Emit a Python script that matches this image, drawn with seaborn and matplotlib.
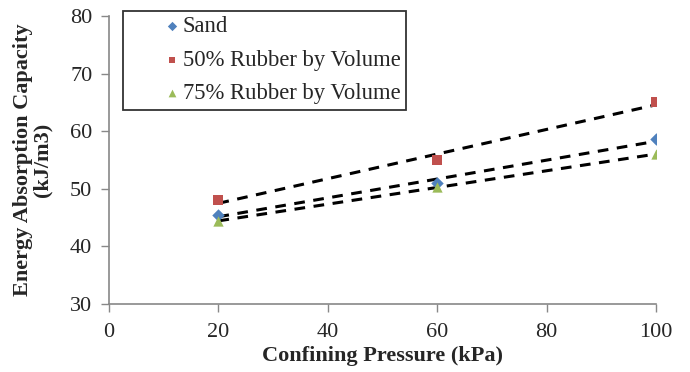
import numpy as np
import pandas as pd
import seaborn as sns
import matplotlib
matplotlib.use("Agg")
import matplotlib.pyplot as plt

pressure = [20, 60, 100]
sand = [45.5, 51.0, 58.6]
rubber50 = [48.0, 55.0, 65.1]
rubber75 = [44.4, 50.3, 56.0]
series_names = ["Sand", "50% Rubber by Volume", "75% Rubber by Volume"]
x_ticks = [0, 20, 40, 60, 80, 100]
y_ticks = [30, 40, 50, 60, 70, 80]

df = pd.DataFrame({
    "Pressure": pressure * 3,
    "Energy": sand + rubber50 + rubber75,
    "Series": [series_names[0]] * 3 + [series_names[1]] * 3 + [series_names[2]] * 3,
})

sns.set_theme(style="white")
plt.rcParams['font.family'] = ['Liberation Serif', 'DejaVu Serif']

fig = plt.figure(figsize=(6.9, 3.72), dpi=100)
ax = fig.add_axes([109/690, 1 - 304/372, (656-109)/690, (304-16)/372])

colors = {"Sand": "#4F81BD", "50% Rubber by Volume": "#C0504D", "75% Rubber by Volume": "#9BBB59"}
markers = {"Sand": "D", "50% Rubber by Volume": "s", "75% Rubber by Volume": "^"}
sizes = {"Sand": 40, "50% Rubber by Volume": 44, "75% Rubber by Volume": 55}

# trend lines
for name in series_names:
    sub = df[df.Series == name]
    sns.regplot(data=sub, x="Pressure", y="Energy", ax=ax, ci=None, scatter=False,
                line_kws=dict(color="black", lw=2.2, ls=(0, (3.5, 2.8))), truncate=True)

for name in series_names:
    sub = df[df.Series == name]
    ax.scatter(sub.Pressure, sub.Energy, marker=markers[name], s=sizes[name],
               color=colors[name], label=name, zorder=3, linewidths=0)

ax.set_xlim(0, 100)
ax.set_ylim(30, 80)
ax.set_xticks(x_ticks)
ax.set_yticks(y_ticks)
ax.tick_params(axis="both", labelsize=16, length=6, width=1, color="#888888",
               direction="out", pad=6, bottom=True, left=True)
ax.tick_params(axis="x", pad=8)
for s in ["top", "right"]:
    ax.spines[s].set_visible(False)
for s in ["left", "bottom"]:
    ax.spines[s].set_color("#888888")
    ax.spines[s].set_linewidth(1.2)

ax.set_xlabel("Confining Pressure (kPa)", fontsize=16, fontweight="bold")
ax.set_ylabel("Energy Absorption Capacity\n(kJ/m3)", fontsize=16, fontweight="bold",
              linespacing=0.95)
ax.xaxis.set_label_coords(0.5, -0.145)
ax.yaxis.set_label_coords(-0.104, 0.5)

leg = fig.legend(loc="upper left", bbox_to_anchor=(123/690, 1 - 10.5/372),
                 borderaxespad=0,
                 fontsize=16.3, frameon=True, fancybox=False, edgecolor="black",
                 markerscale=0.75, handletextpad=-1.45, borderpad=0.25,
                 labelspacing=0.55, handlelength=3.85)
leg.get_frame().set_linewidth(1.3)
leg.get_frame().set_boxstyle("square", pad=0)

fig.savefig("out.png", dpi=100)
